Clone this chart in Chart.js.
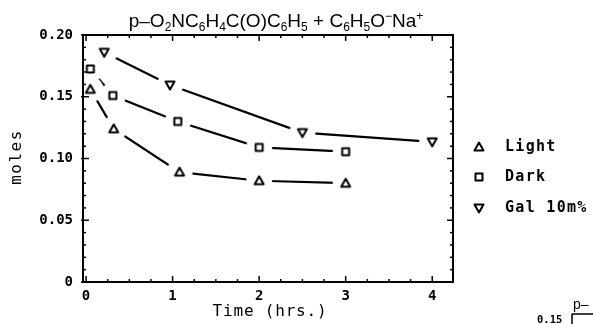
<!DOCTYPE html>
<html lang="en">
<head>
<meta charset="UTF-8">
<title>p-nitrobenzophenone + sodium phenoxide</title>
<script src="https://cdn.jsdelivr.net/npm/chart.js"></script>
<style>
  body { margin: 0; background: #fff; }
  canvas { display: block; }
</style>
</head>
<body>
<canvas id="chart" width="593" height="324"></canvas>
<script>
// values: time in hrs, amount in moles
const lightTime  = [0.05, 0.32, 1.08, 2.0, 3.0];
const lightMoles = [0.156, 0.124, 0.089, 0.082, 0.080];
const darkTime   = [0.05, 0.31, 1.06, 2.0, 3.0];
const darkMoles  = [0.1725, 0.151, 0.130, 0.109, 0.1055];
const galTime    = [0.21, 0.97, 2.5, 4.0];
const galMoles   = [0.186, 0.1595, 0.121, 0.1135];

const seriesNames = ['Light', 'Dark', 'Gal 10m%'];
const xTickValues = [0, 1, 2, 3, 4];
const yTickValues = [0, 0.05, 0.10, 0.15, 0.20];
const xMinorTicks = [0.25, 0.5, 0.75, 1.25, 1.5, 1.75, 2.25, 2.5, 2.75, 3.25, 3.5, 3.75];
const yMinorTicks = [0.01, 0.02, 0.03, 0.04, 0.06, 0.07, 0.08, 0.09, 0.11, 0.12, 0.13, 0.14, 0.16, 0.17, 0.18, 0.19];

const mono = "'DejaVu Sans Mono', monospace";

// hollow markers; the white halo leaves the gap between line and symbol
function makeMarker(kind, halo) {
  const c = document.createElement('canvas');
  c.width = 30; c.height = 30;
  const g = c.getContext('2d');
  if (halo) {
    g.fillStyle = '#fff';
    g.beginPath(); g.arc(15, 15, halo, 0, Math.PI * 2); g.fill();
  }
  g.strokeStyle = '#000';
  g.lineWidth = 2;
  g.lineJoin = 'round';
  g.beginPath();
  if (kind === 'up') {
    g.moveTo(15, 10.5); g.lineTo(19.5, 18.5); g.lineTo(10.5, 18.5); g.closePath();
  } else if (kind === 'down') {
    g.moveTo(10.5, 11.5); g.lineTo(19.5, 11.5); g.lineTo(15, 19.5); g.closePath();
  } else {
    g.rect(11.5, 11.5, 7, 7);
  }
  g.stroke();
  return c;
}

const kinds = ['up', 'square', 'down'];
const plotMarkers = kinds.map(k => makeMarker(k, 13));
const legendMarkers = kinds.map(k => makeMarker(k, 0));

const toPoints = (xs, ys) => xs.map((t, i) => ({ x: t, y: ys[i] }));

function drawSegments(ctx, parts, cx, y) {
  const big = "19px 'Liberation Sans', Arial, sans-serif";
  const small = "12px 'Liberation Sans', Arial, sans-serif";
  let total = 0;
  parts.forEach(p => {
    ctx.font = typeof p === 'string' ? big : small;
    total += ctx.measureText(typeof p === 'string' ? p : (p.sub || p.sup)).width;
  });
  let x = cx - total / 2;
  parts.forEach(p => {
    if (typeof p === 'string') {
      ctx.font = big;
      ctx.fillText(p, x, y);
      x += ctx.measureText(p).width;
    } else {
      const s = p.sub || p.sup;
      ctx.font = small;
      ctx.fillText(s, x, p.sub ? y + 4 : y - 7);
      x += ctx.measureText(s).width;
    }
  });
}

const titleParts = ['p\u2013O', { sub: '2' }, 'NC', { sub: '6' }, 'H', { sub: '4' }, 'C(O)C', { sub: '6' }, 'H', { sub: '5' },
  ' + C', { sub: '6' }, 'H', { sub: '5' }, 'O', { sup: '\u2212' }, 'Na', { sup: '+' }];

const decorPlugin = {
  id: 'decor',
  afterDraw(chart) {
    const { ctx, chartArea: a, scales: { x, y } } = chart;
    ctx.save();
    ctx.strokeStyle = '#000';
    ctx.fillStyle = '#000';
    const seg = (x1, y1, x2, y2) => { ctx.beginPath(); ctx.moveTo(x1, y1); ctx.lineTo(x2, y2); ctx.stroke(); };

    // inward ticks on all four sides
    ctx.lineWidth = 1.5;
    xMinorTicks.forEach(v => { const px = x.getPixelForValue(v); seg(px, a.bottom, px, a.bottom - 3); seg(px, a.top, px, a.top + 3); });
    xTickValues.forEach(v => { const px = x.getPixelForValue(v); seg(px, a.bottom, px, a.bottom - 6); seg(px, a.top, px, a.top + 6); });
    yMinorTicks.forEach(v => { const py = y.getPixelForValue(v); seg(a.left, py, a.left + 3, py); seg(a.right, py, a.right - 3, py); });
    yTickValues.forEach(v => { const py = y.getPixelForValue(v); seg(a.left - 2, py, a.left + 6, py); seg(a.right, py, a.right - 6, py); });

    ctx.lineWidth = 2;
    ctx.strokeRect(a.left, a.top, a.width, a.height);

    // title
    ctx.textBaseline = 'alphabetic';
    ctx.textAlign = 'left';
    drawSegments(ctx, titleParts, 276, 27);

    // axis titles
    ctx.font = `16px ${mono}`;
    ctx.letterSpacing = '0.8px';
    ctx.textAlign = 'center';
    ctx.textBaseline = 'middle';
    ctx.fillText('Time (hrs.)', 270, 312);
    ctx.save();
    ctx.translate(17, 157);
    ctx.rotate(-Math.PI / 2);
    ctx.letterSpacing = '1.5px';
    ctx.fillText('moles', 0, 0);
    ctx.restore();

    // legend
    ctx.font = `bold 15px ${mono}`;
    ctx.letterSpacing = '1.3px';
    ctx.textAlign = 'left';
    const rows = [147, 177, 208];
    seriesNames.forEach((name, i) => {
      const m = legendMarkers[i];
      ctx.drawImage(m, 479 - m.width / 2, rows[i] - m.height / 2);
      ctx.fillText(name, 505, rows[i]);
    });

    // edge of the neighbouring figure on the scan
    ctx.letterSpacing = '0px';
    ctx.font = `bold 10.5px ${mono}`;
    ctx.fillText('0.15', 537, 320);
    ctx.font = "14px 'Liberation Sans', Arial, sans-serif";
    ctx.fillText('p\u2013', 573, 305);
    ctx.lineWidth = 1.5;
    seg(572, 314, 593, 314);
    seg(572, 314, 572, 324);
    ctx.restore();
  }
};

const lineStyle = { showLine: true, borderColor: '#000', borderWidth: 2.2, tension: 0, pointRadius: 4 };

new Chart(document.getElementById('chart'), {
  type: 'scatter',
  data: {
    datasets: [
      { label: seriesNames[0], data: toPoints(lightTime, lightMoles), pointStyle: plotMarkers[0], ...lineStyle },
      { label: seriesNames[1], data: toPoints(darkTime, darkMoles), pointStyle: plotMarkers[1], ...lineStyle },
      { label: seriesNames[2], data: toPoints(galTime, galMoles), pointStyle: plotMarkers[2], ...lineStyle }
    ]
  },
  options: {
    responsive: false,
    animation: false,
    layout: { padding: { top: 35, right: 140, left: 0, bottom: 0 } },
    plugins: {
      legend: { display: false },
      title: { display: false },
      tooltip: { enabled: false }
    },
    scales: {
      x: {
        type: 'linear',
        min: -0.035,
        max: 4.24,
        grid: { display: false, drawTicks: false },
        border: { display: false },
        afterBuildTicks: s => { s.ticks = xTickValues.map(v => ({ value: v })); },
        afterFit: s => { s.height = 42; },
        ticks: {
          padding: 6,
          color: '#000',
          font: { family: mono, size: 14, weight: 'bold' },
          callback: v => String(v)
        }
      },
      y: {
        min: 0,
        max: 0.20,
        grid: { display: false, drawTicks: false },
        border: { display: false },
        afterBuildTicks: s => { s.ticks = yTickValues.map(v => ({ value: v })); },
        afterFit: s => { s.width = 83; },
        ticks: {
          padding: 10,
          color: '#000',
          font: { family: mono, size: 14, weight: 'bold' },
          callback: v => (v === 0 ? '0' : v.toFixed(2))
        }
      }
    }
  },
  plugins: [decorPlugin]
});
</script>
</body>
</html>
